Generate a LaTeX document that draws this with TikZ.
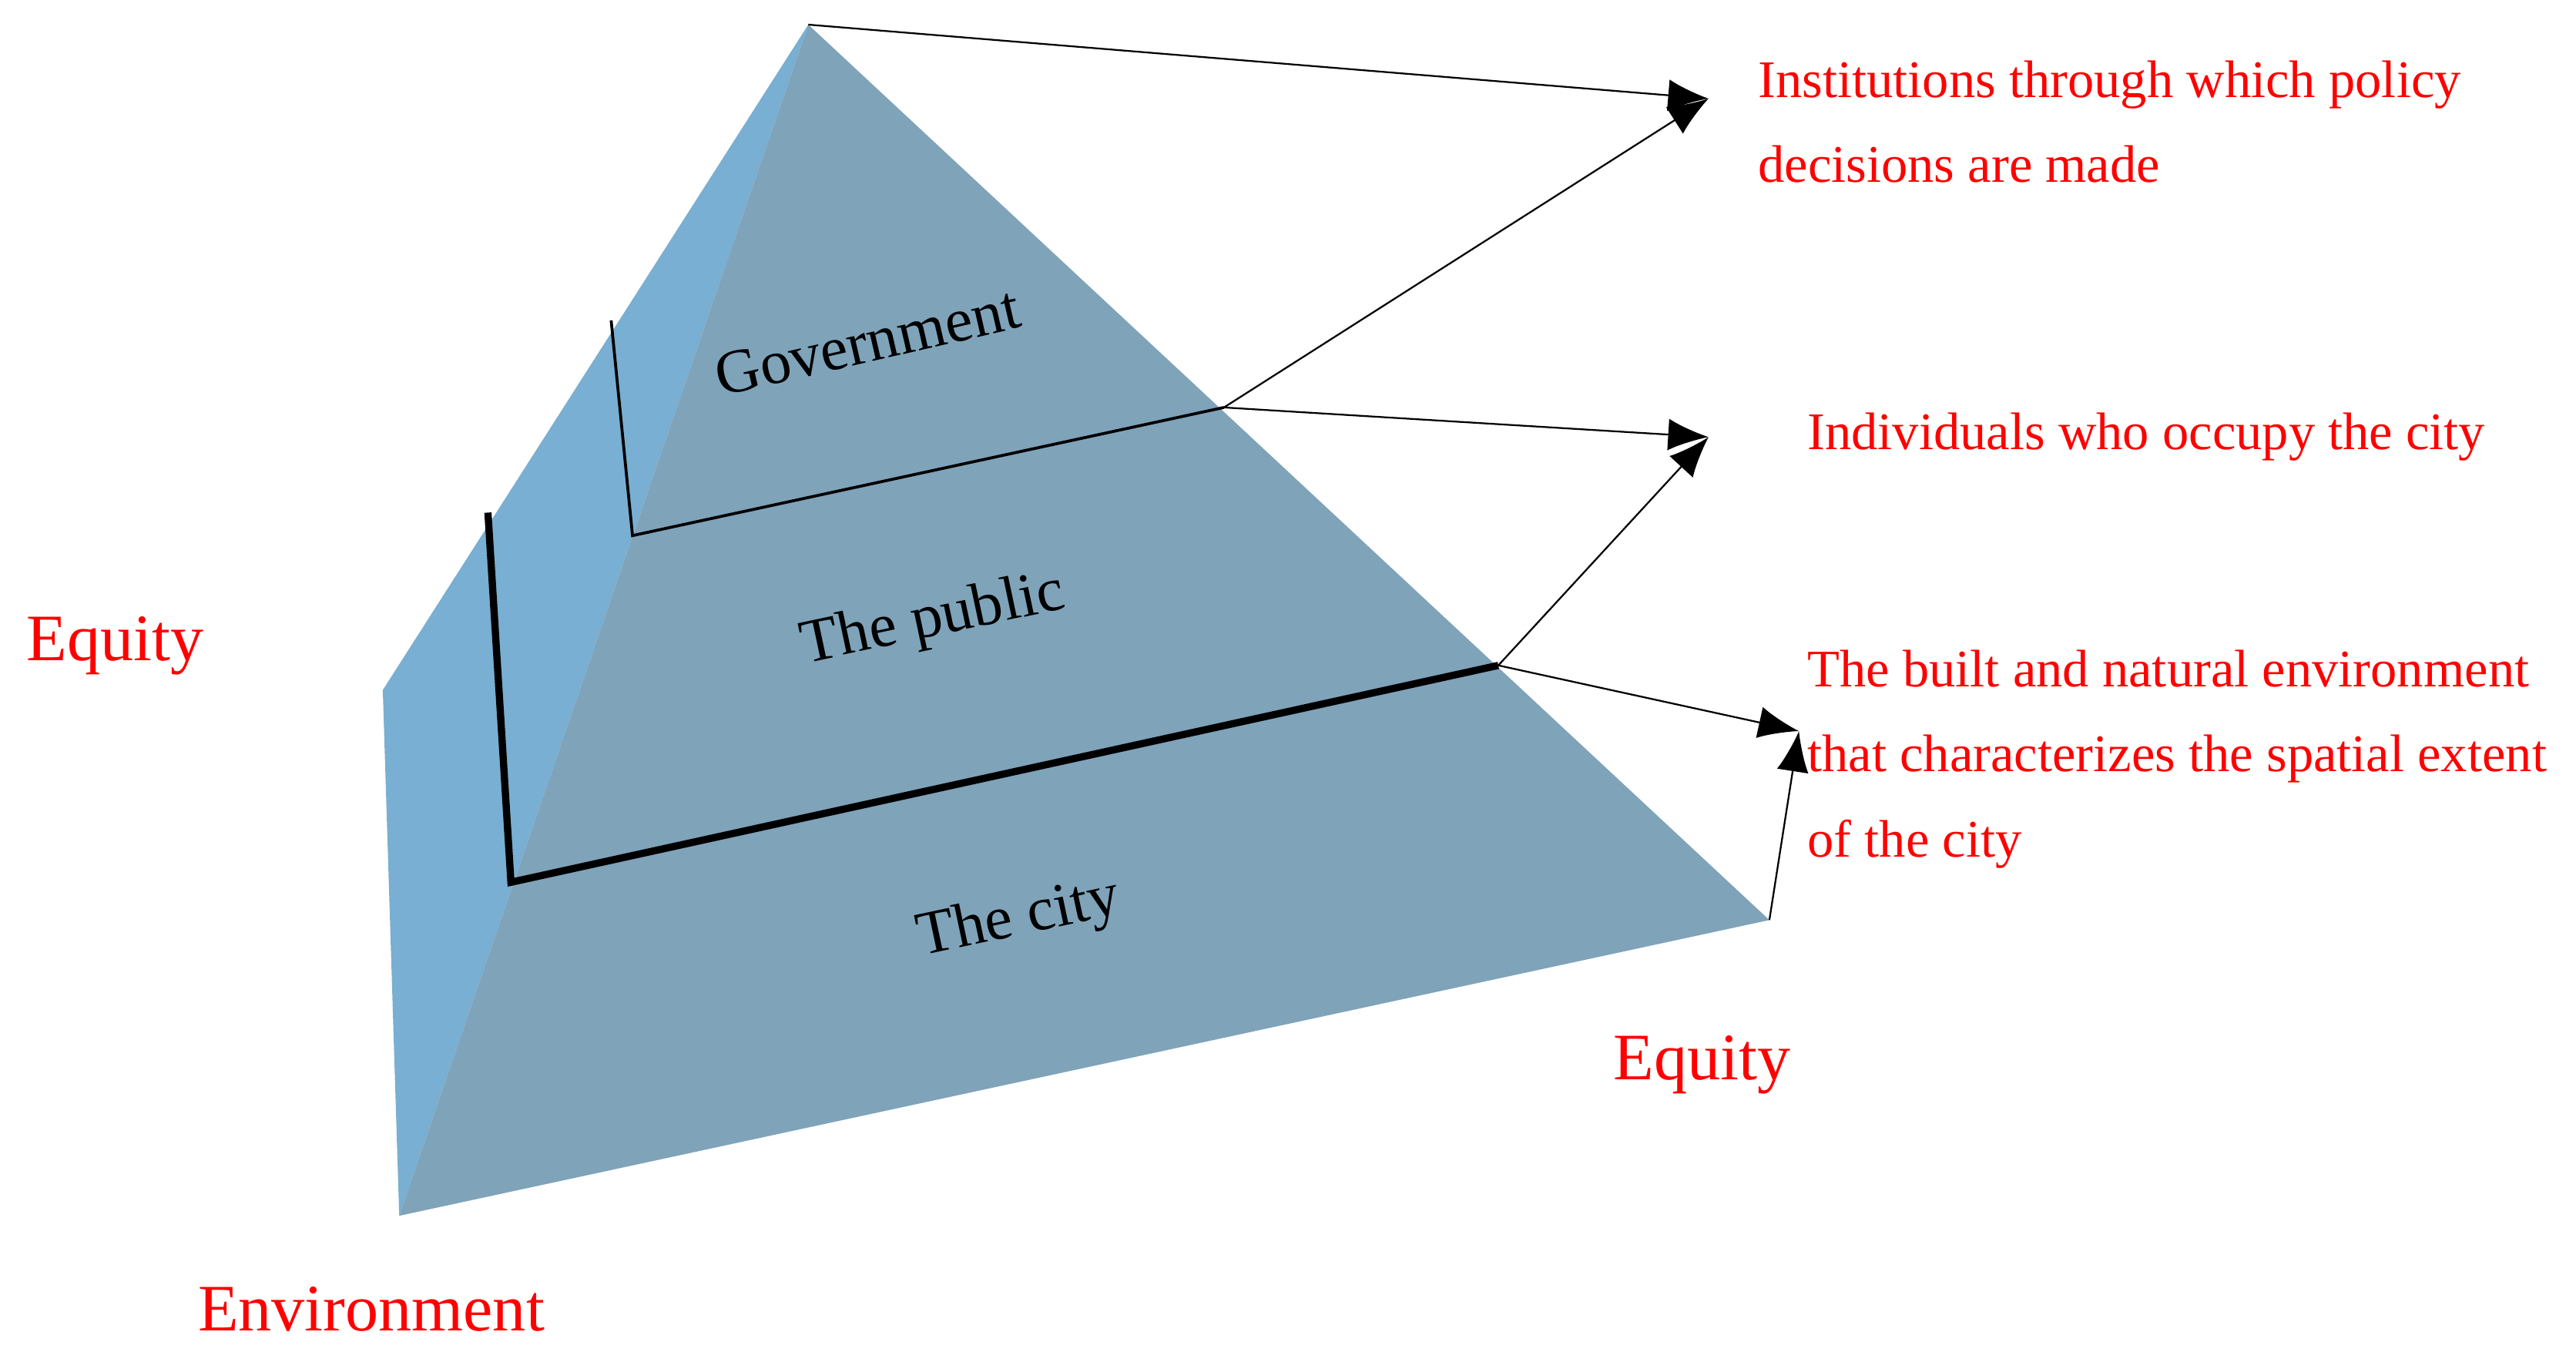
\documentclass[tikz,border=0pt]{standalone}
\usepackage{fontspec}
\setmainfont{Liberation Serif}
\usetikzlibrary{arrows.meta}
\definecolor{front}{HTML}{7FA3B9}
\definecolor{side}{HTML}{78AFD2}
\definecolor{lab}{HTML}{FF0000}
\begin{document}
\begin{tikzpicture}[x=0.02cm,y=-0.02cm,
  arr/.style={-{Latex[length=14pt,width=11pt]},line width=0.6pt},
  red/.style={text=lab,font=\fontsize{18.3}{29.5}\selectfont,anchor=west,align=left},
  big/.style={text=lab,font=\fontsize{23}{26}\selectfont},
  lay/.style={font=\fontsize{21.5}{24}\selectfont,inner sep=0pt}]
\useasboundingbox (0,0) rectangle (1568,829);
\coordinate (A) at (492,15);
\coordinate (LB) at (233,420);
\coordinate (BL) at (243,740);
\coordinate (BR) at (1077,560);
\fill[side] (A) -- (LB) -- (BL) -- cycle;
\fill[front] (A) -- (BL) -- (BR) -- cycle;
\coordinate (g1) at (372,195); \coordinate (g2) at (385,326); \coordinate (g3) at (745,248);
\coordinate (p1) at (297,312); \coordinate (p2) at (311,537); \coordinate (p3) at (912,405);
\draw[line width=1pt] (g1) -- (g2) -- (g3);
\draw[line width=2.5pt] (p1) -- (p2) -- (p3);
\coordinate (t1) at (1040,60); \coordinate (t2) at (1040,266); \coordinate (t3) at (1095,445);
\draw[arr] (A) -- (t1);
\draw[arr] (g3) -- (t1);
\draw[arr] (g3) -- (t2);
\draw[arr] (p3) -- (t2);
\draw[arr] (p3) -- (t3);
\draw[arr] (BR) -- (t3);
\node[lay,rotate=13] (gov) at (528,208) {Government};
\node[lay,rotate=12] (pub) at (568,378) {The public};
\node[lay,rotate=12] (city) at (620,560) {The city};
\node[red] (r1) at (1064,74) {Institutions through which policy\\decisions are made};
\node[red] (r2) at (1094,266) {Individuals who occupy the city};
\node[red] (r3) at (1094,462) {The built and natural environment\\that characterizes the spatial extent\\of the city};
\node[big] (e1) at (70,393) {Equity};
\node[big] (e2) at (1036,648) {Equity};
\node[big] (e3) at (226,797) {Environment};
\end{tikzpicture}
\end{document}
